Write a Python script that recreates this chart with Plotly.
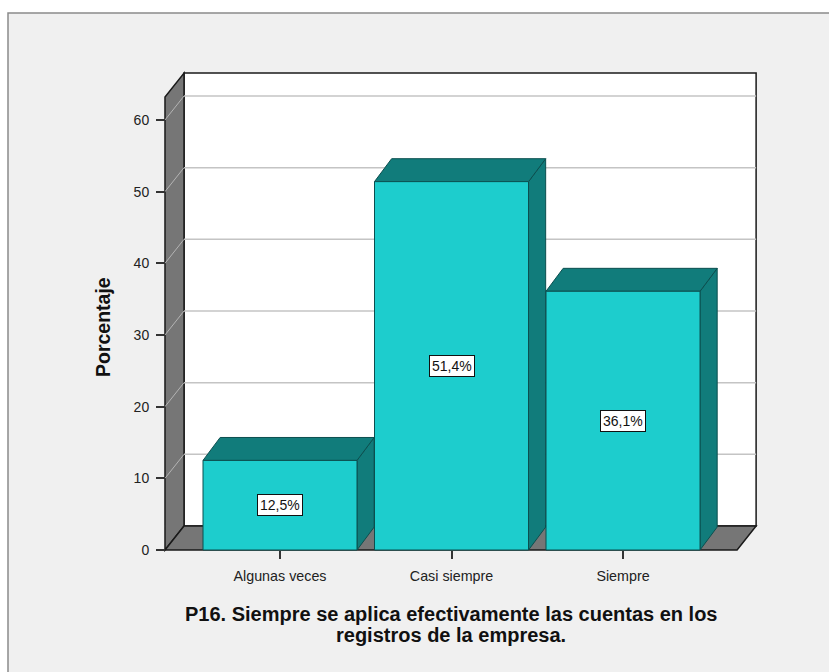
import plotly.graph_objects as go

# Datos del gráfico
categorias = ["Algunas veces", "Casi siempre", "Siempre"]
porcentajes = [12.5, 51.4, 36.1]
ticks_y = [0, 10, 20, 30, 40, 50, 60]
titulo_lineas = ["P16. Siempre se aplica efectivamente las cuentas en los",
                 "registros de la empresa."]
titulo_y = "Porcentaje"

# Lienzo y márgenes
W, H = 829, 672
ML, MR, MT, MB = 150, 59, 60, 107
PW, PH = W - ML - MR, H - MT - MB

# Rangos de los ejes
X0, X1 = -0.758, 2.857
Y0, Y1 = -2.093, 68.37

# Geometría de la caja 3D (unidades de datos)
xL, xR = -0.6706, 2.665       # borde frontal del suelo
dxw, dyw = 0.111, 3.35        # profundidad de paredes
ytop = 63.2                   # altura de la pared lateral (frente)
hw = 0.449                    # media anchura de barra
dxb, dyb = 0.1, 3.2           # profundidad de barras

C_FRONT = "#1dcdcd"
C_SIDE = "#117c7b"
C_EDGE = "#0b4f4f"
C_WALL = "#767676"
FONT = "Liberation Sans, Arial"


def px_x(p):
    return (p - ML) / PW


def px_y(p):
    return (H - MB - p) / PH


def poly(pts):
    return "M " + " L ".join(f"{x},{y}" for x, y in pts) + " Z"


shapes = []

# Marco exterior del gráfico
shapes.append(dict(type="rect", xref="paper", yref="paper", layer="below",
                   x0=px_x(8), x1=px_x(W + 10), y0=px_y(H + 10), y1=px_y(13),
                   fillcolor="#f0f0f0", line=dict(color="#8a8a8a", width=1.5)))

# Pared del fondo
shapes.append(dict(type="rect", xref="x", yref="y", layer="below",
                   x0=xL + dxw, x1=xR + dxw, y0=dyw, y1=ytop + dyw,
                   fillcolor="white", line=dict(color="#1a1a1a", width=1.5)))
# Pared lateral izquierda
shapes.append(dict(type="path", xref="x", yref="y", layer="below",
                   path=poly([(xL, 0), (xL, ytop), (xL + dxw, ytop + dyw), (xL + dxw, dyw)]),
                   fillcolor=C_WALL, line=dict(color="#1a1a1a", width=1.5)))
# Suelo
shapes.append(dict(type="path", xref="x", yref="y", layer="below",
                   path=poly([(xL, 0), (xR, 0), (xR + dxw, dyw), (xL + dxw, dyw)]),
                   fillcolor=C_WALL, line=dict(color="#1a1a1a", width=1.5)))

# Líneas de cuadrícula en pared del fondo y pared lateral
for v in ticks_y[1:]:
    shapes.append(dict(type="line", xref="x", yref="y", layer="below",
                       x0=xL + dxw, x1=xR + dxw, y0=v + dyw, y1=v + dyw,
                       line=dict(color="#c4c4c4", width=1.5)))
    shapes.append(dict(type="line", xref="x", yref="y", layer="below",
                       x0=xL, x1=xL + dxw, y0=v, y1=v + dyw,
                       line=dict(color="#b4b4b4", width=1)))

# Caras lateral y superior de cada barra
for i, v in enumerate(porcentajes):
    shapes.append(dict(type="path", xref="x", yref="y", layer="below",
                       path=poly([(i + hw, 0), (i + hw + dxb, dyb), (i + hw + dxb, v + dyb), (i + hw, v)]),
                       fillcolor=C_SIDE, line=dict(color=C_EDGE, width=1)))
    shapes.append(dict(type="path", xref="x", yref="y", layer="below",
                       path=poly([(i - hw, v), (i - hw + dxb, v + dyb), (i + hw + dxb, v + dyb), (i + hw, v)]),
                       fillcolor=C_SIDE, line=dict(color=C_EDGE, width=1)))

fig = go.Figure()
fig.add_trace(go.Bar(
    x=list(range(len(categorias))), y=porcentajes, width=2 * hw,
    marker=dict(color=C_FRONT, line=dict(color=C_EDGE, width=1)),
    hoverinfo="skip", showlegend=False,
))

annotations = []
for i, v in enumerate(porcentajes):
    annotations.append(dict(
        x=i, y=v / 2, xref="x", yref="y", showarrow=False,
        text=f"{v:.1f}%".replace(".", ","),
        font=dict(size=14, color="#111", family=FONT),
        bgcolor="white", bordercolor="#111", borderwidth=1, borderpad=2,
    ))

annotations.append(dict(
    x=px_x(103), y=px_y(327), xref="paper", yref="paper", showarrow=False,
    xanchor="center", yanchor="middle",
    text=f"<b>{titulo_y}</b>", textangle=-90,
    font=dict(size=19.5, color="#111", family=FONT),
))
for k, linea in enumerate(titulo_lineas):
    annotations.append(dict(
        x=px_x(451), y=px_y(614 + 20.5 * k), xref="paper", yref="paper",
        showarrow=False, xanchor="center", yanchor="middle",
        text=f"<b>{linea}</b>",
        font=dict(size=20, color="#111", family=FONT),
    ))

fig.update_layout(
    width=W, height=H,
    margin=dict(l=ML, r=MR, t=MT, b=MB, pad=0),
    paper_bgcolor="white", plot_bgcolor="rgba(0,0,0,0)",
    font=dict(family=FONT, color="#222"),
    shapes=shapes, annotations=annotations,
    xaxis=dict(range=[X0, X1], anchor="free", position=px_y(550),
               tickvals=list(range(len(categorias))), ticktext=categorias,
               ticks="outside", ticklen=8, tickwidth=1.5, tickcolor="#333",
               ticklabelstandoff=5,
               showgrid=False, zeroline=False, showline=False,
               tickfont=dict(size=14.3, color="#222"), fixedrange=True),
    yaxis=dict(range=[Y0, Y1], anchor="free", position=px_x(165),
               tickvals=ticks_y, ticks="outside", ticklen=9, tickwidth=2,
               tickcolor="#333", ticklabelstandoff=4,
               showgrid=False, zeroline=False, showline=False,
               tickfont=dict(size=14, color="#222"), fixedrange=True),
)

fig.write_html("out.html")
